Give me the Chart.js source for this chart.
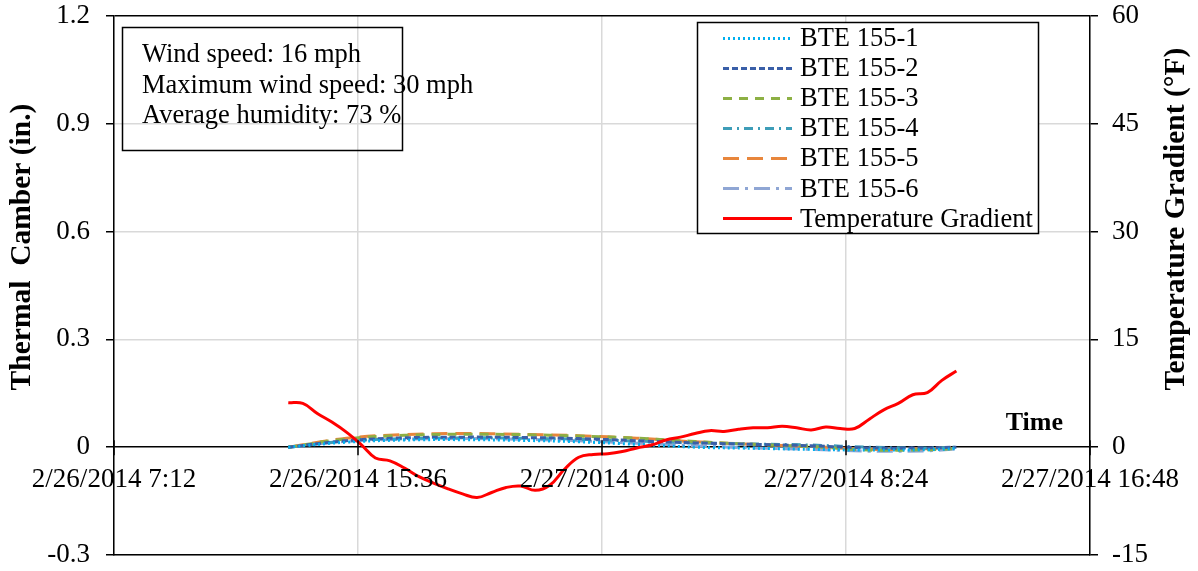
<!DOCTYPE html>
<html>
<head>
<meta charset="utf-8">
<script src="https://cdn.jsdelivr.net/npm/chart.js@4.4.1/dist/chart.umd.min.js"></script>
<style>
  html, body { margin: 0; padding: 0; background: #fff; }
  #wrap { width: 1198px; height: 571px; }
</style>
</head>
<body>
<div id="wrap"><canvas id="camberChart" width="1198" height="571"></canvas></div>
<script>
// minutes after 2/26/2014 7:12
const xTickLabels = ['2/26/2014 7:12', '2/26/2014 15:36', '2/27/2014 0:00', '2/27/2014 8:24', '2/27/2014 16:48'];

const camberTimes = [360, 480, 600, 720, 840, 960, 1080, 1200, 1320, 1440, 1560, 1680, 1740];
const bte1 = [0, 0.014, 0.020, 0.021, 0.019, 0.015, 0.008, 0.000, -0.003, -0.006, -0.008, -0.007, -0.004];
const bte2 = [0, 0.018, 0.026, 0.028, 0.027, 0.024, 0.018, 0.012, 0.008, 0.004, -0.002, -0.002, 0.000];
const bte3 = [0, 0.023, 0.033, 0.036, 0.035, 0.031, 0.025, 0.016, 0.008, 0.002, -0.008, -0.007, -0.004];
const bte4 = [0, 0.017, 0.024, 0.026, 0.025, 0.022, 0.017, 0.012, 0.009, 0.006, 0.000, -0.002, 0.000];
const bte5 = [0, 0.025, 0.035, 0.038, 0.036, 0.032, 0.025, 0.015, 0.008, 0.002, -0.006, -0.004, 0.000];
const bte6 = [0, 0.016, 0.022, 0.024, 0.022, 0.018, 0.011, 0.004, -0.002, -0.006, -0.011, -0.010, -0.005];

const gradientTimes = [360, 390, 420, 450, 480, 510, 540, 570, 600, 630, 660, 690, 720, 750, 780, 810,
  840, 870, 900, 930, 960, 990, 1020, 1050, 1080, 1110, 1140, 1170, 1200, 1230, 1260, 1290, 1320,
  1350, 1380, 1410, 1440, 1470, 1500, 1530, 1560, 1590, 1620, 1650, 1680, 1710, 1740];
const gradient = [6.2, 6.1, 4.7, 3.5, 2.1, 0.4, -1.5, -1.9, -2.9, -4.1, -5.0, -5.8, -6.5, -7.0, -6.3, -5.6,
  -5.4, -6.0, -5.3, -3.1, -1.4, -1.0, -0.9, -0.6, -0.1, 0.3, 1.0, 1.4, 1.9, 2.3, 2.2, 2.5, 2.7,
  2.7, 2.9, 2.7, 2.4, 2.8, 2.6, 2.6, 3.9, 5.2, 6.1, 7.3, 7.6, 9.3, 10.6];

const infoLines = ['Wind speed: 16 mph', 'Maximum wind speed: 30 mph', 'Average humidity: 73 %'];

const serif = '"Liberation Serif", "Times New Roman", serif';

function pairs(xs, ys) {
    return xs.map((x, i) => ({ x: x, y: ys[i] }));
}

function camberSet(label, values, color, dash) {
    return {
        label: label,
        data: pairs(camberTimes, values),
        yAxisID: 'y',
        borderColor: color,
        borderWidth: 3,
        borderDash: dash,
        pointRadius: 0,
        tension: 0.4,
        fill: false,
        order: 1
    };
}

// text box, legend, axis titles, x labels on the zero line
const decorations = {
    id: 'decorations',
    afterDraw(chart) {
        const ctx = chart.ctx;
        const xs = chart.scales.x;
        const yl = chart.scales.y;
        const zeroY = yl.getPixelForValue(0);
        ctx.save();

        // x tick marks and labels at the zero line
        ctx.strokeStyle = '#000';
        ctx.lineWidth = 1.5;
        ctx.fillStyle = '#000';
        ctx.font = '27px ' + serif;
        ctx.textAlign = 'center';
        ctx.textBaseline = 'alphabetic';
        xs.ticks.forEach((t, i) => {
            const px = xs.getPixelForValue(t.value);
            ctx.beginPath();
            ctx.moveTo(px, zeroY - 7);
            ctx.lineTo(px, zeroY + 8);
            ctx.stroke();
            ctx.fillText(xTickLabels[i], px, zeroY + 40);
        });

        // "Time"
        ctx.font = 'bold 26px ' + serif;
        ctx.textAlign = 'right';
        ctx.fillText('Time', 1063, 430);

        // info box
        ctx.lineWidth = 1.5;
        ctx.strokeRect(122.5, 27.5, 280, 123);
        ctx.font = '26.5px ' + serif;
        ctx.textAlign = 'left';
        infoLines.forEach((s, i) => ctx.fillText(s, 142, 62 + i * 30.5));

        // legend
        ctx.fillStyle = '#fff';
        ctx.fillRect(697, 22, 342, 211);
        ctx.strokeStyle = '#000';
        ctx.lineWidth = 1.5;
        ctx.strokeRect(697.5, 22.5, 341, 211);
        chart.data.datasets.forEach((ds, i) => {
            const ly = 38.5 + i * 30;
            ctx.strokeStyle = ds.borderColor;
            ctx.lineWidth = ds.borderWidth;
            ctx.setLineDash(ds.borderDash || []);
            ctx.beginPath();
            ctx.moveTo(723, ly);
            ctx.lineTo(792, ly);
            ctx.stroke();
            ctx.setLineDash([]);
            ctx.fillStyle = '#000';
            ctx.fillText(ds.label, 800, 46 + i * 30.1);
        });

        // axis titles
        ctx.font = 'bold 29.5px ' + serif;
        ctx.textAlign = 'center';
        ctx.textBaseline = 'middle';
        ctx.translate(22, 247);
        ctx.rotate(-Math.PI / 2);
        ctx.fillText('Thermal  Camber (in.)', 0, 0);
        ctx.setTransform(1, 0, 0, 1, 0, 0);
        ctx.translate(1176, 219);
        ctx.rotate(-Math.PI / 2);
        ctx.fillText('Temperature Gradient (°F)', 0, 0);
        ctx.restore();
    }
};

function fixWidth(w) {
    return s => {
        s.width = w;
        s.paddingTop = 0;
        s.paddingBottom = 0;
    };
}

const chart = new Chart(document.getElementById('camberChart').getContext('2d'), {
    type: 'line',
    data: {
        datasets: [
            camberSet('BTE 155-1', bte1, '#00B0F0', [2, 3]),
            camberSet('BTE 155-2', bte2, '#3A5FA8', [6, 3]),
            camberSet('BTE 155-3', bte3, '#8DB044', [9, 7]),
            camberSet('BTE 155-4', bte4, '#3E9DB8', [9, 5, 2, 5]),
            camberSet('BTE 155-5', bte5, '#E8863C', [16, 8]),
            camberSet('BTE 155-6', bte6, '#8FA6D4', [16, 6, 3, 6]),
            {
                label: 'Temperature Gradient',
                data: pairs(gradientTimes, gradient),
                yAxisID: 'y1',
                borderColor: '#FF0000',
                borderWidth: 3,
                pointRadius: 0,
                tension: 0.4,
                fill: false,
                order: 0
            }
        ]
    },
    options: {
        responsive: false,
        devicePixelRatio: 1,
        animation: false,
        layout: { padding: { top: 16, left: 0, right: 0, bottom: 0 } },
        plugins: {
            legend: { display: false },
            tooltip: { enabled: false }
        },
        scales: {
            x: {
                type: 'linear',
                min: 0,
                max: 2016,
                ticks: { stepSize: 504, display: false },
                grid: { color: '#d9d9d9', lineWidth: 1.5, drawTicks: false },
                border: { color: '#000', width: 1.5 },
                afterFit: s => { s.height = 16; s.paddingLeft = 0; s.paddingRight = 0; }
            },
            y: {
                position: 'left',
                min: -0.3,
                max: 1.2,
                ticks: {
                    stepSize: 0.3,
                    padding: 16,
                    color: '#000',
                    font: { family: serif, size: 27 },
                    callback: v => String(Math.round(v * 10) / 10)
                },
                grid: {
                    lineWidth: 1.5,
                    tickLength: 8,
                    tickColor: '#000',
                    color: c => (Math.abs(c.tick.value) < 1e-9 || Math.abs(c.tick.value - 1.2) < 1e-9) ? '#000' : '#d9d9d9'
                },
                border: { color: '#000', width: 1.5 },
                afterFit: fixWidth(114)
            },
            y1: {
                position: 'right',
                min: -15,
                max: 60,
                ticks: {
                    stepSize: 15,
                    padding: 14,
                    color: '#000',
                    font: { family: serif, size: 27 }
                },
                grid: { drawOnChartArea: false, tickLength: 8, tickColor: '#000', lineWidth: 1.5 },
                border: { color: '#000', width: 1.5 },
                afterFit: fixWidth(108)
            }
        }
    },
    plugins: [decorations]
});
</script>
</body>
</html>
